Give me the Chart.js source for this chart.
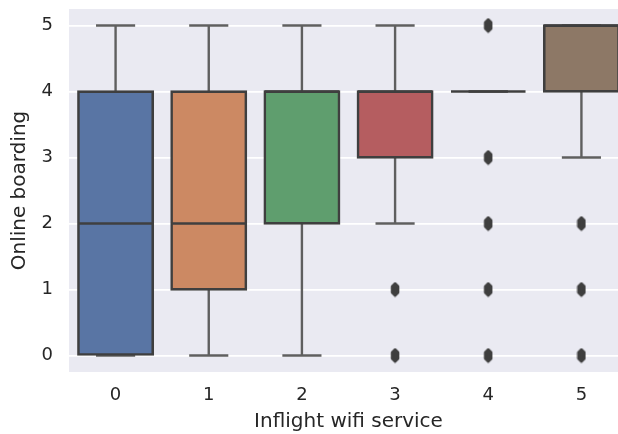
<!DOCTYPE html>
<html>
<head>
<meta charset="utf-8">
<script src="https://cdn.jsdelivr.net/npm/chart.js@4.4.0/dist/chart.umd.min.js"></script>
<style>
  html, body { margin: 0; padding: 0; background: #fff; overflow: hidden; }
  #wrap { width: 634px; height: 434px; }
</style>
</head>
<body>
<div id="wrap"><canvas id="boxChart" width="634" height="434"></canvas></div>
<script>
// Online boarding rating grouped by inflight wifi service rating
const categories = ['0', '1', '2', '3', '4', '5'];
const q1Values = [0, 1, 2, 3, 4, 4];
const medianValues = [2, 2, 4, 4, 4, 5];
const q3Values = [4, 4, 4, 4, 4, 5];
const whiskerLow = [0, 0, 0, 2, 4, 3];
const whiskerHigh = [5, 5, 5, 5, 4, 5];
const outliers = [[], [], [], [0, 1], [0, 1, 2, 3, 5], [0, 1, 2]];
const yTicks = [0, 1, 2, 3, 4, 5];
const boxColors = ['#5975a4', '#cc8963', '#5f9e6e', '#b55d60', '#857aab', '#8d7866'];

const lineGray = '#3f3f3f';
const textColor = '#262626';
const boxWidth = 0.8;
const capWidth = 0.42;

// thin diamond marker used for the fliers
function makeFlierMarker() {
  const c = document.createElement('canvas');
  c.width = 10;
  c.height = 16;
  const g = c.getContext('2d');
  g.fillStyle = lineGray;
  g.strokeStyle = lineGray;
  g.lineJoin = 'round';
  g.lineWidth = 2.5;
  g.beginPath();
  g.moveTo(5, 2);
  g.lineTo(8, 5);
  g.lineTo(8, 11);
  g.lineTo(5, 14);
  g.lineTo(2, 11);
  g.lineTo(2, 5);
  g.closePath();
  g.fill();
  g.stroke();
  return c;
}

const flierData = [];
outliers.forEach((vals, i) => {
  vals.forEach(v => flierData.push({ x: categories[i], y: v }));
});

// plot background
const plotBackground = {
  id: 'plotBackground',
  beforeDraw(chart) {
    const { ctx, chartArea: a } = chart;
    ctx.save();
    ctx.fillStyle = '#eaeaf2';
    ctx.fillRect(a.left, a.top, a.right - a.left, a.bottom - a.top);
    ctx.restore();
  }
};

// whiskers, caps and medians
const boxParts = {
  id: 'boxParts',
  beforeDatasetsDraw(chart) {
    const { ctx, scales: { x, y } } = chart;
    const step = x.getPixelForValue(1) - x.getPixelForValue(0);
    ctx.save();
    ctx.strokeStyle = '#5f5f5f';
    ctx.lineWidth = 2.4;
    ctx.lineCap = 'butt';
    categories.forEach((c, i) => {
      const cx = x.getPixelForValue(i);
      const half = step * capWidth / 2;
      const segs = [
        [q1Values[i], whiskerLow[i]],
        [q3Values[i], whiskerHigh[i]]
      ];
      segs.forEach(([from, to]) => {
        ctx.beginPath();
        ctx.moveTo(cx, y.getPixelForValue(from));
        ctx.lineTo(cx, y.getPixelForValue(to));
        ctx.stroke();
        ctx.beginPath();
        ctx.moveTo(cx - half, y.getPixelForValue(to));
        ctx.lineTo(cx + half, y.getPixelForValue(to));
        ctx.stroke();
      });
    });
    ctx.restore();
  },
  afterDatasetsDraw(chart) {
    const { ctx, scales: { x, y } } = chart;
    const step = x.getPixelForValue(1) - x.getPixelForValue(0);
    ctx.save();
    ctx.strokeStyle = lineGray;
    ctx.lineWidth = 2.6;
    categories.forEach((c, i) => {
      const cx = x.getPixelForValue(i);
      const half = step * boxWidth / 2;
      const my = y.getPixelForValue(medianValues[i]);
      ctx.beginPath();
      ctx.moveTo(cx - half, my);
      ctx.lineTo(cx + half, my);
      ctx.stroke();
    });
    ctx.restore();
  }
};

const ctx = document.getElementById('boxChart').getContext('2d');
new Chart(ctx, {
  type: 'bar',
  data: {
    labels: categories,
    datasets: [{
      label: 'Online boarding',
      data: categories.map((c, i) => [q1Values[i], q3Values[i]]),
      backgroundColor: boxColors,
      borderColor: lineGray,
      borderWidth: 2.6,
      borderSkipped: false,
      inflateAmount: 1.2,
      barPercentage: boxWidth,
      categoryPercentage: 1
    }, {
      type: 'scatter',
      label: 'fliers',
      data: flierData,
      pointStyle: makeFlierMarker(),
      pointRadius: 5
    }]
  },
  options: {
    responsive: false,
    devicePixelRatio: 1,
    animation: false,
    layout: { padding: { top: 9, right: 4, left: 0, bottom: 0 } },
    plugins: {
      legend: { display: false },
      tooltip: { enabled: false }
    },
    scales: {
      x: {
        type: 'category',
        offset: true,
        grid: { display: false, drawTicks: false },
        border: { display: false },
        ticks: {
          color: textColor,
          padding: 13,
          font: { family: 'DejaVu Sans', size: 18 }
        },
        title: {
          display: true,
          text: 'Inflight wifi service',
          color: textColor,
          padding: { top: 0, bottom: 0 },
          font: { family: 'DejaVu Sans', size: 20 }
        },
        afterFit(scale) {
          scale.height = 62;
          scale.paddingLeft = 0;
          scale.paddingRight = 0;
        }
      },
      y: {
        min: -0.25,
        max: 5.25,
        grid: { color: '#ffffff', lineWidth: 1.8, drawTicks: false },
        border: { display: false },
        ticks: {
          color: textColor,
          padding: 16,
          font: { family: 'DejaVu Sans', size: 18 }
        },
        afterBuildTicks(scale) {
          scale.ticks = yTicks.map(v => ({ value: v }));
        },
        title: {
          display: true,
          text: 'Online boarding',
          color: textColor,
          padding: { top: 8, bottom: 0 },
          font: { family: 'DejaVu Sans', size: 20 }
        },
        afterFit(scale) {
          scale.width = 69;
          scale.paddingTop = 0;
          scale.paddingBottom = 0;
        }
      }
    }
  },
  plugins: [plotBackground, boxParts]
});
</script>
</body>
</html>
